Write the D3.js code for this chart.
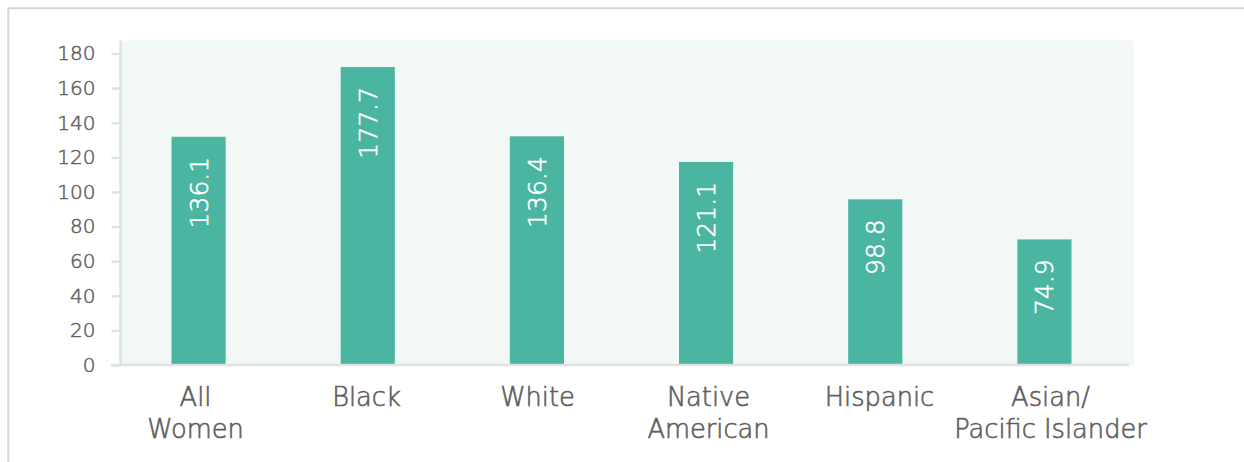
<!DOCTYPE html>
<html>
<head>
<meta charset="utf-8">
<script src="https://cdn.jsdelivr.net/npm/d3@7"></script>
<style>
  html, body { margin: 0; padding: 0; background: #ffffff; }
  svg { display: block; }
  text { font-family: "DejaVu Sans", "Liberation Sans", sans-serif; }
</style>
</head>
<body>
<svg id="chart" width="1244" height="462"></svg>
<script>
// ---- data ----
const categories = ["All Women", "Black", "White", "Native American", "Hispanic", "Asian/ Pacific Islander"];
const categoryLines = [["All", "Women"], ["Black"], ["White"], ["Native", "American"], ["Hispanic"], ["Asian/", "Pacific Islander"]];
const values = [136.1, 177.7, 136.4, 121.1, 98.8, 74.9];
const yTicks = [0, 20, 40, 60, 80, 100, 120, 140, 160, 180];

const svg = d3.select("#chart");
const W = 1244, H = 462;
const textGrey = "#5e5e5e";

// outer frame (left and top edges visible)
svg.append("rect")
  .attr("x", 8.3).attr("y", 8.3)
  .attr("width", W + 20).attr("height", H + 20)
  .attr("fill", "none").attr("stroke", "#d6d6d6").attr("stroke-width", 2);

const plot = { left: 120.5, right: 1134, top: 40.5, bottom: 365 };

// scales
const x = d3.scaleBand().domain(categories).range([114, 1129]).paddingInner(0.68).paddingOuter(0.34);
const xLabel = d3.scaleBand().domain(categories).range([110, 1136]);
// axis ticks as placed in the reference
const yAxisScale = d3.scaleLinear().domain([0, 180]).range([plot.bottom, 53.5]);
// bar heights as drawn in the reference
const y = d3.scaleLinear().domain([0, 180]).range([plot.bottom, 63.2]);

// plot background
svg.append("rect")
  .attr("x", plot.left).attr("y", plot.top)
  .attr("width", plot.right - plot.left).attr("height", plot.bottom - plot.top)
  .attr("fill", "#f2f8f6");

// bars
svg.append("g").selectAll("rect")
  .data(values)
  .join("rect")
  .attr("x", (d, i) => x(categories[i]))
  .attr("y", d => y(d))
  .attr("width", x.bandwidth())
  .attr("height", d => y(0) - y(d))
  .attr("fill", "#4ab5a0");

// bar value labels (rotated)
svg.append("g").selectAll("text")
  .data(values)
  .join("text")
  .attr("transform", (d, i) => `translate(${x(categories[i]) + x.bandwidth() / 2},${y(d) + 20}) rotate(-90)`)
  .attr("text-anchor", "end")
  .attr("dy", "0.36em")
  .attr("fill", "#ffffff")
  .attr("stroke", "#ffffff")
  .attr("stroke-width", 0.6)
  .attr("font-size", 25)
  .attr("font-weight", 200)
  .text(d => d3.format(".1f")(d));

// y axis
const yAxis = d3.axisLeft(yAxisScale).tickValues(yTicks).tickSize(9).tickPadding(16).tickFormat(d3.format("d"));
const gy = svg.append("g").attr("transform", `translate(${plot.left},0)`).call(yAxis);
gy.select(".domain").attr("d", `M0,${plot.top}V${plot.bottom}`).attr("stroke", "#e0e2e1").attr("stroke-width", 2.5);
gy.selectAll(".tick line").attr("stroke", "#e0e2e1").attr("stroke-width", 2.5);
gy.selectAll(".tick text")
  .attr("fill", textGrey)
  .attr("stroke", textGrey)
  .attr("stroke-width", 0.5)
  .attr("font-size", 20)
  .attr("font-weight", 200)
  .attr("font-family", "DejaVu Sans");

// x axis line
const xAxis = d3.axisBottom(x).tickSize(0).tickFormat("");
const gx = svg.append("g").attr("transform", `translate(0,${plot.bottom})`).call(xAxis);
gx.select(".domain").attr("d", `M111,0H1129`).attr("stroke", "#e0e2e1").attr("stroke-width", 2.5);

// x category labels
const xl = svg.append("g").selectAll("text")
  .data(categories)
  .join("text")
  .attr("x", d => xLabel(d) + xLabel.bandwidth() / 2)
  .attr("y", 406)
  .attr("text-anchor", "middle")
  .attr("fill", textGrey)
  .attr("stroke", textGrey)
  .attr("stroke-width", 0.6)
  .attr("font-size", 25.7)
  .attr("font-weight", 200);
xl.each(function(d, i) {
  const t = d3.select(this);
  categoryLines[i].forEach((line, j) => {
    t.append("tspan")
      .attr("x", xLabel(d) + xLabel.bandwidth() / 2)
      .attr("dy", j === 0 ? 0 : 32)
      .text(line);
  });
});
</script>
</body>
</html>
